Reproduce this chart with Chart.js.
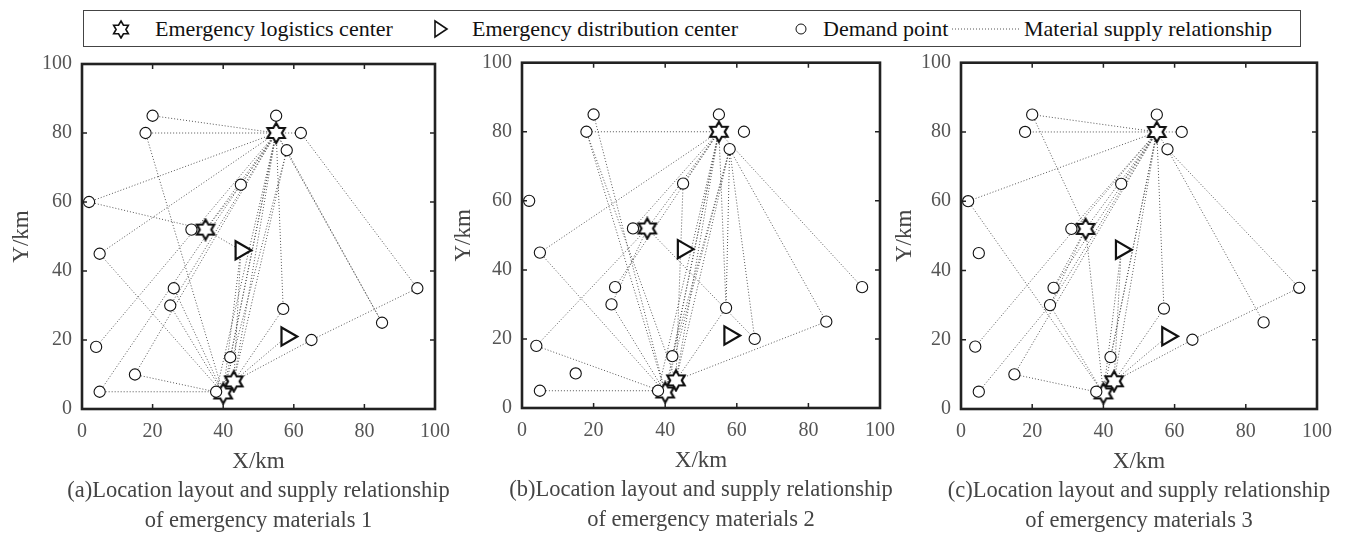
<!DOCTYPE html>
<html>
<head>
<meta charset="utf-8">
<script src="https://cdn.jsdelivr.net/npm/chart.js@4.4.1/dist/chart.umd.min.js"></script>
<style>
  html, body { margin: 0; padding: 0; background: #fff; }
  body { width: 1345px; height: 533px; position: relative; overflow: hidden; font-family: "Liberation Serif", serif; }
  canvas { position: absolute; }
  #legend { position: absolute; left: 83px; top: 10px; width: 1218px; height: 37px; border: 1.5px solid #444; box-sizing: border-box; }
  .li { position: absolute; top: 0; height: 100%; display: flex; align-items: center; font-size: 22px; color: #111; white-space: nowrap; }
  .li svg { display: block; }
</style>
</head>
<body>
<div id="legend">
  <div class="li" style="left:27px"><svg width="20" height="20" viewBox="0 0 20 20"><polygon id="legStar" fill="#fff" stroke="#111" stroke-width="1.6"/></svg></div>
  <div class="li" style="left:71px">Emergency logistics center</div>
  <div class="li" style="left:349px"><svg width="16" height="20" viewBox="0 0 16 20"><polygon points="2,2 14,10 2,18" fill="#fff" stroke="#111" stroke-width="1.6"/></svg></div>
  <div class="li" style="left:388px">Emergency distribution center</div>
  <div class="li" style="left:711px"><svg width="12" height="12" viewBox="0 0 12 12"><circle cx="6" cy="6" r="5" fill="#fff" stroke="#111" stroke-width="1"/></svg></div>
  <div class="li" style="left:739px">Demand point</div>
  <div class="li" style="left:868px"><svg width="68" height="4" viewBox="0 0 68 4"><line x1="0" y1="2" x2="68" y2="2" stroke="#555" stroke-width="1" stroke-dasharray="1,2"/></svg></div>
  <div class="li" style="left:940px">Material supply relationship</div>
</div>

<canvas id="chartA" width="450" height="483" style="left:0px;top:50px"></canvas>
<canvas id="chartB" width="445" height="483" style="left:450px;top:50px"></canvas>
<canvas id="chartC" width="454" height="483" style="left:891px;top:50px"></canvas>

<script>
// ---- site coordinates (km) ----
const demandX = [20, 55, 18, 62, 58, 45, 2, 31, 5, 26, 25, 57, 85, 95, 65, 4, 15, 5, 38, 42];
const demandY = [85, 85, 80, 80, 75, 65, 60, 52, 45, 35, 30, 29, 25, 35, 20, 18, 10, 5, 5, 15];
const centerX = [55, 35, 43, 40];      // emergency logistics centers
const centerY = [80, 52, 8, 4.5];
const distX = [58, 45];                 // emergency distribution centers
const distY = [21, 46];
const axisTicks = [0, 20, 40, 60, 80, 100];

// ---- supply relationships: c = logistics center, d = distribution center, p = demand point ----
const linksA = [
  ['c0','p0'],['c0','p2'],['c0','p6'],['c0','p3'],['c0','p4'],['c0','p5'],['c0','p8'],['c0','p15'],
  ['c0','p17'],['c0','p16'],['c0','p10'],['c0','c1'],['c0','p19'],['c0','c2'],['c0','c3'],['c0','p18'],
  ['c0','p11'],['c0','p12'],['p4','p12'],['p4','c2'],['p4','c3'],['p3','p13'],['p6','c1'],['p2','c3'],
  ['p8','c3'],['c1','d1'],['d1','c2'],['d1','c3'],['p16','c3'],['p17','p18'],['p10','c3'],['p9','c3'],
  ['p11','c2'],['c2','d0'],['c2','p14'],['p14','p13'],['p5','c1']
];
const linksB = [
  ['c0','p2'],['c0','p8'],['c0','p5'],['c0','c1'],['c0','p7'],['c0','p9'],
  ['p0','c3'],['p2','c3'],['p2','c2'],['p8','c3'],['p15','c1'],['p15','c3'],['p17','p18'],['p10','c3'],
  ['c1','p14'],['p5','c2'],['c0','c2'],['c0','c3'],['c0','p19'],['c0','p18'],['p4','c2'],['p4','c3'],
  ['p4','p19'],['c0','p11'],['p4','p11'],['p4','p14'],['p4','p12'],['c0','p13'],['c2','p12'],['c2','p11'],
  ['c1','p10']
];
const linksC = [
  ['c0','p0'],['c0','p2'],['c0','p6'],['c0','p3'],['c0','p4'],['c0','p5'],['c0','c1'],['c0','p7'],
  ['p0','c1'],['p6','c3'],['c0','p15'],['c0','p16'],['c0','p9'],['c0','p10'],['c1','p9'],['c1','p10'],
  ['p17','p10'],['p16','c3'],['p10','c3'],['c1','c3'],['c0','c2'],['c0','c3'],['c0','p19'],['d1','c2'],
  ['d1','c3'],['c0','p11'],['p11','c2'],['p4','p12'],['p4','p13'],['c2','p14'],['p14','p13'],['c2','d0']
];

const captionA = ['(a)Location layout and supply relationship', 'of emergency materials 1'];
const captionB = ['(b)Location layout and supply relationship', 'of emergency materials 2'];
const captionC = ['(c)Location layout and supply relationship', 'of emergency materials 3'];

// ---- six-pointed star marker ----
function starPoints(cx, cy, R) {
  const r = R / Math.sqrt(3);
  const pts = [];
  for (let k = 0; k < 12; k++) {
    const ang = (-90 + k * 30) * Math.PI / 180;
    const rad = k % 2 === 0 ? R : r;
    pts.push([cx + rad * Math.cos(ang), cy + rad * Math.sin(ang)]);
  }
  return pts;
}
document.getElementById('legStar').setAttribute('points',
  starPoints(10, 10.5, 8.5).map(p => p[0].toFixed(2) + ',' + p[1].toFixed(2)).join(' '));

const starImg = document.createElement('canvas');
starImg.width = 24; starImg.height = 24;
(function () {
  const g = starImg.getContext('2d');
  const pts = starPoints(12, 12, 10);
  g.beginPath();
  pts.forEach((p, i) => i ? g.lineTo(p[0], p[1]) : g.moveTo(p[0], p[1]));
  g.closePath();
  g.fillStyle = '#fff'; g.fill();
  g.lineWidth = 2.2; g.strokeStyle = '#111'; g.lineJoin = 'miter'; g.stroke();
})();

function node(key) {
  const i = +key.slice(1);
  if (key[0] === 'c') return { x: centerX[i], y: centerY[i] };
  if (key[0] === 'd') return { x: distX[i], y: distY[i] };
  return { x: demandX[i], y: demandY[i] };
}

function buildDatasets(links) {
  const ds = [
    { data: demandX.map((x, i) => ({ x, y: demandY[i] })), pointStyle: 'circle', pointRadius: 5.6,
      pointBackgroundColor: '#fff', pointBorderColor: '#111', pointBorderWidth: 1.1, showLine: false, order: 1, clip: false },
    { data: distX.map((x, i) => ({ x, y: distY[i] })), pointStyle: 'triangle', pointRotation: 90, pointRadius: 10.5,
      pointBackgroundColor: '#fff', pointBorderColor: '#111', pointBorderWidth: 2.2, showLine: false, order: 1, clip: false },
    { data: centerX.map((x, i) => ({ x, y: centerY[i] })), pointStyle: starImg, pointRadius: 10,
      showLine: false, order: 2, clip: false }
  ];
  links.forEach(([a, b]) => ds.push({
    data: [node(a), node(b)], showLine: true, borderColor: '#555', borderWidth: 1, borderDash: [1, 2],
    pointRadius: 0, order: 5, clip: false
  }));
  return ds;
}

const framePlugin = {
  id: 'frame',
  afterDraw(chart, args, opts) {
    const { ctx, chartArea: a, scales: { x, y } } = chart;
    ctx.save();
    ctx.strokeStyle = '#222';
    ctx.lineWidth = 1.5;
    ctx.beginPath();
    axisTicks.forEach(v => {
      if (v <= 0 || v >= 100) return;
      const px = x.getPixelForValue(v), py = y.getPixelForValue(v);
      ctx.moveTo(px, a.bottom); ctx.lineTo(px, a.bottom - 5);
      ctx.moveTo(px, a.top); ctx.lineTo(px, a.top + 5);
      ctx.moveTo(a.left, py); ctx.lineTo(a.left + 5, py);
      ctx.moveTo(a.right, py); ctx.lineTo(a.right - 5, py);
    });
    ctx.stroke();
    ctx.lineWidth = 2.6;
    ctx.strokeRect(a.left, a.top, a.right - a.left, a.bottom - a.top);
    // panel caption under the axis title
    ctx.fillStyle = '#444';
    ctx.font = '22.5px "Liberation Serif", serif';
    ctx.textAlign = 'center';
    ctx.textBaseline = 'middle';
    const cx = (a.left + a.right) / 2;
    (opts.caption || []).forEach((line, i) => ctx.fillText(line, cx, a.bottom + 82 + i * 30));
    ctx.restore();
  }
};

function makeChart(id, links, caption, yWidth, pad, yTitlePad) {
  const tickFont = { family: '"Liberation Serif", serif', size: 20 };
  const titleFont = { family: '"Liberation Serif", serif', size: 23 };
  return new Chart(document.getElementById(id), {
    type: 'scatter',
    data: { datasets: buildDatasets(links) },
    plugins: [framePlugin],
    options: {
      responsive: false,
      devicePixelRatio: 1,
      animation: false,
      events: [],
      layout: { padding: pad },
      plugins: { legend: { display: false }, tooltip: { enabled: false }, frame: { caption } },
      scales: {
        x: {
          type: 'linear', min: 0, max: 100,
          afterFit: s => { s.height = 70; s.paddingLeft = 0; s.paddingRight = 0; },
          grid: { display: false, drawTicks: false },
          border: { display: false },
          ticks: { stepSize: 20, padding: 11, color: '#555', font: tickFont },
          title: { display: true, text: 'X/km', color: '#444', font: titleFont, padding: { top: 0, bottom: 3 } }
        },
        y: {
          type: 'linear', min: 0, max: 100,
          afterFit: s => { s.width = yWidth; s.paddingTop = 0; s.paddingBottom = 0; },
          grid: { display: false, drawTicks: false },
          border: { display: false },
          ticks: { stepSize: 20, padding: 10, color: '#555', font: tickFont },
          title: { display: true, text: 'Y/km', color: '#444', font: titleFont, padding: { top: yTitlePad, bottom: 0 } }
        }
      }
    }
  });
}

makeChart('chartA', linksA, captionA, 82, { top: 14, right: 15, bottom: 54, left: 0 }, 8);
makeChart('chartB', linksB, captionB, 72, { top: 12, right: 15, bottom: 55, left: 0 }, 0);
makeChart('chartC', linksC, captionC, 70, { top: 9, right: 28, bottom: 54, left: 0 }, 0);
</script>
</body>
</html>
